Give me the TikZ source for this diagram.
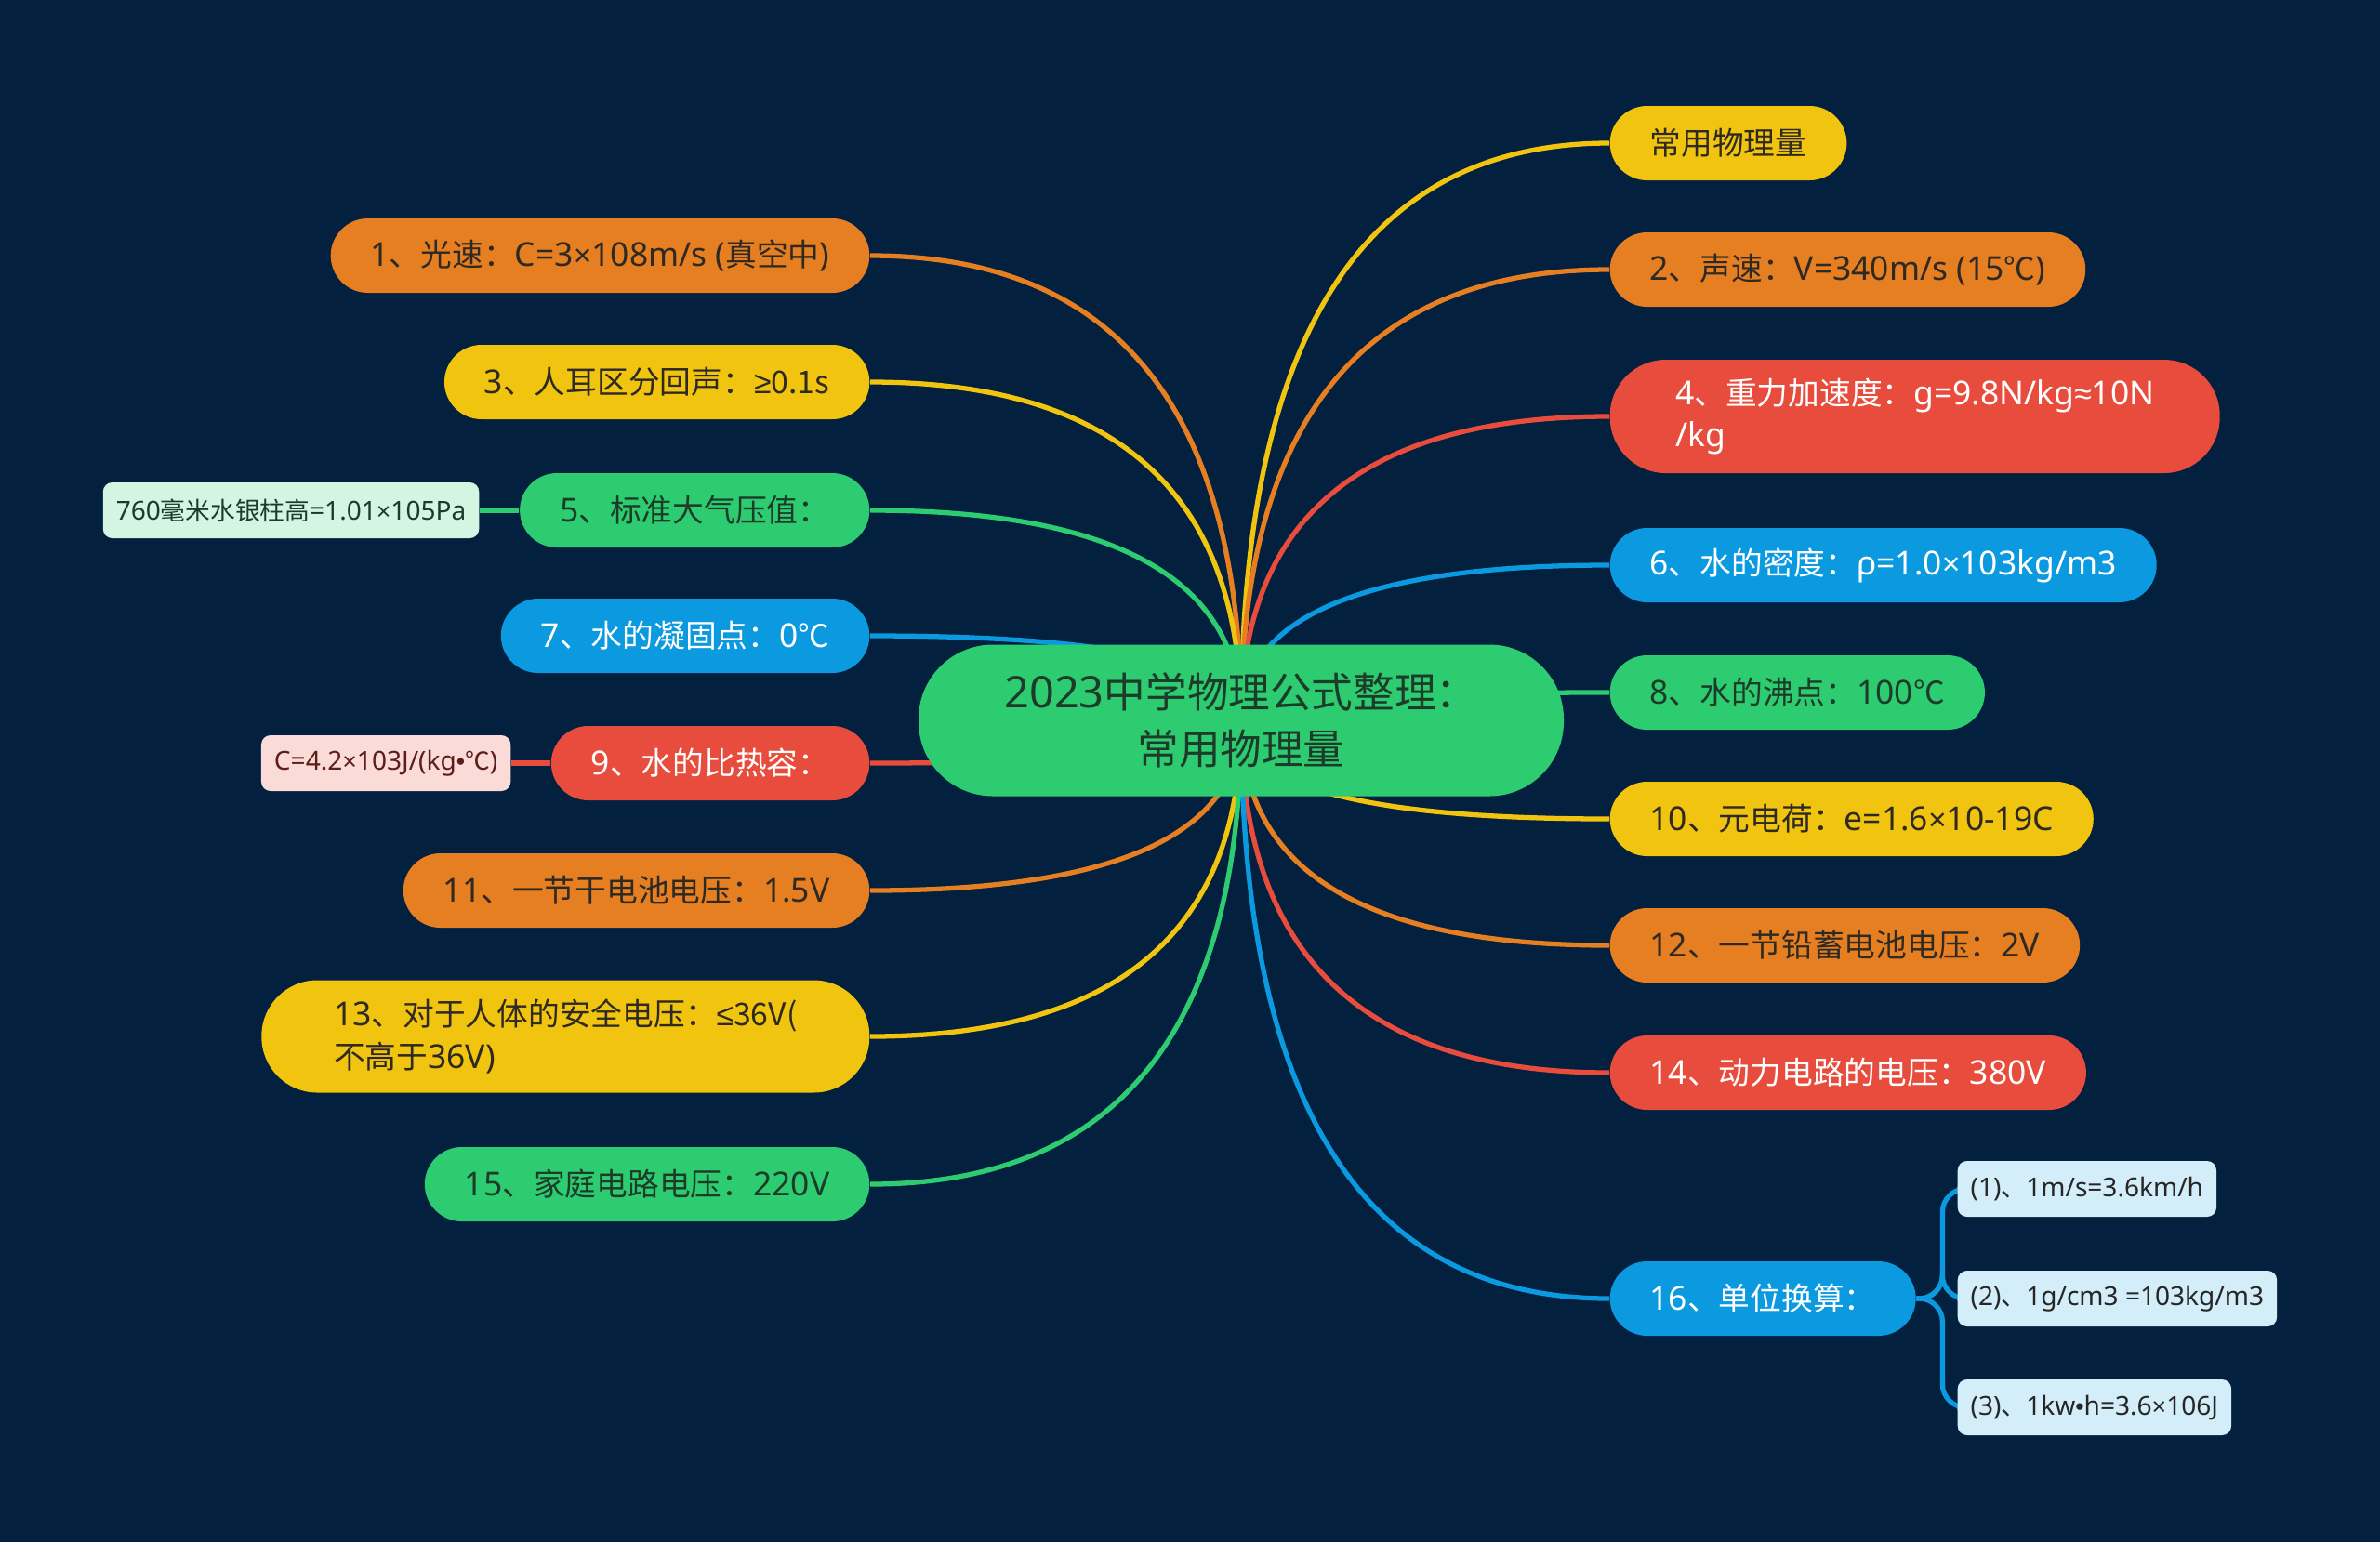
\documentclass[tikz,border=0pt]{standalone}
\usepackage{fontspec}
\setmainfont{Noto Sans}[Scale=1.05]
\newfontfamily\cjkf{Noto Sans CJK SC}
\newfontfamily\latf{Liberation Sans}
% 中文字符自动换用中文字体
\XeTeXinterchartokenstate=1
\newXeTeXintercharclass\cjkclass
\count255="3000
\loop \XeTeXcharclass\count255=\cjkclass
  \ifnum\count255<"9FFF \advance\count255 by 1 \repeat
\count255="FF00
\loop \XeTeXcharclass\count255=\cjkclass
  \ifnum\count255<"FFEF \advance\count255 by 1 \repeat
\XeTeXcharclass"2103=\cjkclass
\XeTeXinterchartoks 0 \cjkclass = {\cjkf}
\XeTeXinterchartoks 4095 \cjkclass = {\cjkf}
\XeTeXinterchartoks \cjkclass 0 = {\rmfamily}
\newcommand\tms{{\latf ×}}
\newcommand\gee{{\latf ≥}}
\newcommand\lee{{\latf ≤}}
\newcommand\apx{{\latf ≈}}
\newcommand\bul{{\latf •}}
\usetikzlibrary{calc}
\definecolor{bgc}{HTML}{03203F}
\definecolor{corg}{HTML}{E67E22}
\definecolor{cyel}{HTML}{F1C40F}
\definecolor{cred}{HTML}{E74C3C}
\definecolor{cgrn}{HTML}{2ECC71}
\definecolor{cblu}{HTML}{0B99DF}
\definecolor{dark}{HTML}{2E2A22}
\definecolor{dgrn}{HTML}{1D3B29}
\pgfdeclarelayer{bg}
\pgfdeclarelayer{lines}
\pgfsetlayers{bg,lines,main}

\begin{document}
\begin{tikzpicture}[
  pill/.style={rounded corners=0.4cm, minimum height=0.8cm, inner xsep=0.43cm,
    inner ysep=0pt, font=\fontsize{9.6}{13}\selectfont},
  orgbox/.style={pill, fill=corg, text=dark},
  yelbox/.style={pill, fill=cyel, text=dark},
  redbox/.style={pill, fill=cred, text=white},
  grnbox/.style={pill, fill=cgrn, text=dgrn},
  blubox/.style={pill, fill=cblu, text=white},
  leaf/.style={rounded corners=0.1cm, minimum height=0.6cm, inner xsep=0.14cm,
    inner ysep=0pt, font=\fontsize{7.6}{10}\selectfont},
  edge/.style={line width=1.5pt},
]
  \begin{pgfonlayer}{bg}
    \fill[bgc] (0,0) rectangle (25.6,-16.59);
  \end{pgfonlayer}
  \useasboundingbox (0,0) rectangle (25.6,-16.59);

  % 中心主题
  \node[fill=cgrn, text=dgrn, rounded corners=0.8cm, minimum width=6.94cm,
    minimum height=1.63cm, align=center, font=\fontsize{12.7}{17.4}\selectfont]
    (O) at (13.35,-7.75) {2023中学物理公式整理：\\常用物理量};

  % 右侧分支
  \node[yelbox, anchor=west] (R0) at (17.31,-1.54) {常用物理量};
  \node[orgbox, anchor=west] (R1) at (17.31,-2.90) {2、声速：V=340m/s (15℃)};
  \node[redbox, anchor=west, rounded corners=0.6cm, minimum height=1.22cm,
    minimum width=6.56cm, inner xsep=0.6cm, align=left] (R2) at (17.31,-4.48)
    {4、重力加速度：g=9.8N/kg\apx10N\\/kg};
  \node[blubox, anchor=west] (R3) at (17.31,-6.08) {6、水的密度：ρ=1.0\tms103kg/m3};
  \node[grnbox, anchor=west] (R4) at (17.31,-7.45) {8、水的沸点：100℃};
  \node[yelbox, anchor=west] (R5) at (17.31,-8.81) {10、元电荷：e=1.6\tms10-19C};
  \node[orgbox, anchor=west] (R6) at (17.31,-10.17) {12、一节铅蓄电池电压：2V};
  \node[redbox, anchor=west] (R7) at (17.31,-11.54) {14、动力电路的电压：380V};
  \node[blubox, anchor=west] (R8) at (17.31,-13.97) {16、单位换算：};

  % 左侧分支
  \node[orgbox, anchor=east] (L1) at (9.36,-2.75) {1、光速：C=3\tms108m/s (真空中)};
  \node[yelbox, anchor=east] (L2) at (9.36,-4.11) {3、人耳区分回声：\gee0.1s};
  \node[grnbox, anchor=east] (L3) at (9.36,-5.49) {5、标准大气压值：};
  \node[blubox, anchor=east] (L4) at (9.36,-6.84) {7、水的凝固点：0℃};
  \node[redbox, anchor=east] (L5) at (9.36,-8.21) {9、水的比热容：};
  \node[orgbox, anchor=east] (L6) at (9.36,-9.58) {11、一节干电池电压：1.5V};
  \node[yelbox, anchor=east, rounded corners=0.6cm, minimum height=1.21cm,
    minimum width=6.54cm, align=left] (L7) at (9.36,-11.15)
    {13、对于人体的安全电压：\lee36V(\\不高于36V)};
  \node[grnbox, anchor=east] (L8) at (9.36,-12.74) {15、家庭电路电压：220V};

  % 子节点
  \node[leaf, fill=cgrn!20, text=dgrn, anchor=east] (P3) at (5.16,-5.49)
    {760毫米水银柱高=1.01\tms105Pa};
  \node[leaf, fill=cred!20, text=cred!40!black, anchor=east] (P5) at (5.50,-8.21)
    {C=4.2\tms103J/(kg\bul℃)};
  \node[leaf, fill=cblu!18, text=black!85, anchor=west] (K1) at (21.05,-12.79)
    {(1)、1m/s=3.6km/h};
  \node[leaf, fill=cblu!18, text=black!85, anchor=west] (K2) at (21.05,-13.97)
    {(2)、1g/cm3 =103kg/m3};
  \node[leaf, fill=cblu!18, text=black!85, anchor=west] (K3) at (21.05,-15.14)
    {(3)、1kw\bul h=3.6\tms106J};

  \begin{pgfonlayer}{lines}
    \foreach \n/\c in {R0/cyel, R1/corg, R2/cred, R3/cblu, R4/cgrn,
                       R5/cyel, R6/corg, R7/cred, R8/cblu}
      \draw[\c, edge] (O.center) .. controls ($(O.center)!0.667!(O.center |- \n.west)$)
        and ($(\n.west)!0.667!(O.center |- \n.west)$) .. (\n.west);
    \foreach \n/\c in {L1/corg, L2/cyel, L3/cgrn, L4/cblu,
                       L5/cred, L6/corg, L7/cyel, L8/cgrn}
      \draw[\c, edge] (O.center) .. controls ($(O.center)!0.667!(O.center |- \n.east)$)
        and ($(\n.east)!0.667!(O.center |- \n.east)$) .. (\n.east);
    \draw[cgrn, edge] (L3.west) -- (P3.east);
    \draw[cred, edge] (L5.west) -- (P5.east);
    \foreach \k in {K1,K2,K3}
      \draw[cblu, edge, rounded corners=0.25cm] (R8.east) -- ++(0.28,0) |- (\k.west);
  \end{pgfonlayer}
\end{tikzpicture}
\end{document}
